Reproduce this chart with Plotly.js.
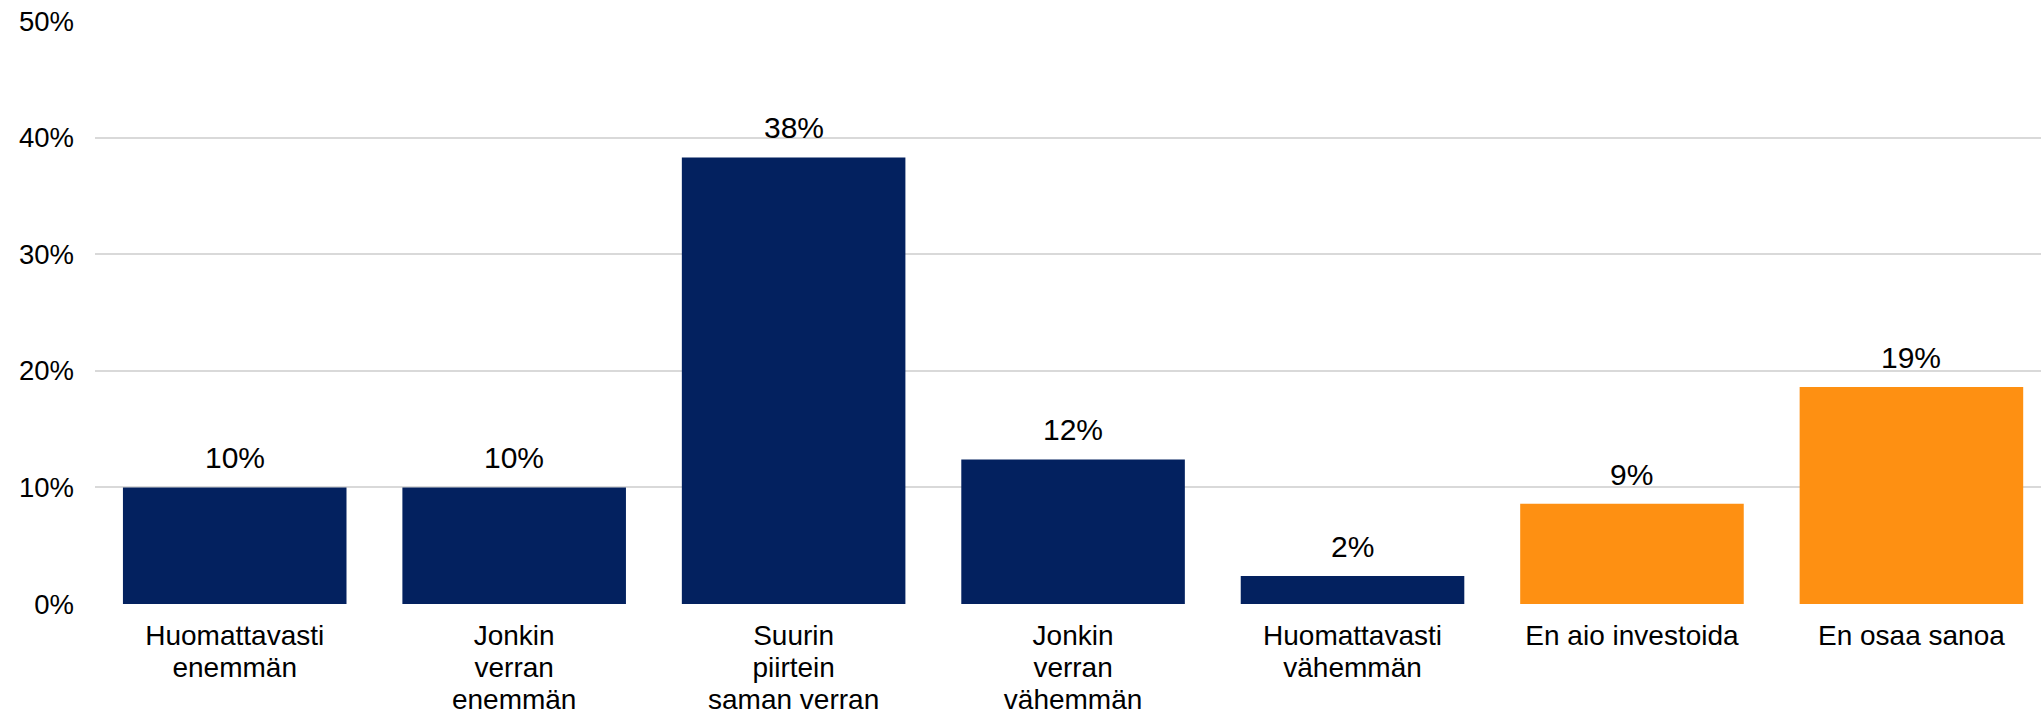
<!DOCTYPE html>
<html>
<head>
<meta charset="utf-8">
<script src="https://cdn.plot.ly/plotly-3.0.1.min.js"></script>
<style>
  html, body { margin: 0; padding: 0; background: #ffffff; }
  #chart { width: 2041px; height: 714px; }
</style>
</head>
<body>
<div id="chart"></div>
<script>
// Answer options and the share of respondents choosing each
const categories = [
  'Huomattavasti enemmän',
  'Jonkin verran enemmän',
  'Suurin piirtein saman verran',
  'Jonkin verran vähemmän',
  'Huomattavasti vähemmän',
  'En aio investoida',
  'En osaa sanoa'
];
const tickLabels = [
  'Huomattavasti<br>enemmän',
  'Jonkin<br>verran<br>enemmän',
  'Suurin<br>piirtein<br>saman verran',
  'Jonkin<br>verran<br>vähemmän',
  'Huomattavasti<br>vähemmän',
  'En aio investoida',
  'En osaa sanoa'
];
const shares = [0.100, 0.100, 0.383, 0.124, 0.024, 0.086, 0.186];
// true = the respondent states a planned investment level
const statesLevel = [true, true, true, true, true, false, false];

const yTickVals = [0, 0.1, 0.2, 0.3, 0.4, 0.5];
const yTickText = ['0%', '10%', '20%', '30%', '40%', '50%'];

const NAVY = '#03215f';
const ORANGE = '#fe9012';
const FONT = 'Liberation Sans, Arial, sans-serif';

const trace = {
  type: 'bar',
  x: categories,
  y: shares,
  marker: { color: statesLevel.map(s => s ? NAVY : ORANGE), line: { width: 0 } },
  hoverinfo: 'skip'
};

const valueLabels = categories.map((c, i) => ({
  x: c,
  y: shares[i],
  xref: 'x',
  yref: 'y',
  text: Math.round(shares[i] * 100) + '%',
  showarrow: false,
  yanchor: 'bottom',
  yshift: 11,
  font: { family: FONT, size: 30, color: '#000000' }
}));

const layout = {
  width: 2041,
  height: 714,
  margin: { l: 95, r: 0, t: 21, b: 110, pad: 0 },
  paper_bgcolor: '#ffffff',
  plot_bgcolor: '#ffffff',
  showlegend: false,
  bargap: 0.2,
  font: { family: FONT, size: 27, color: '#000000' },
  xaxis: {
    type: 'category',
    range: [-0.5, 6.4637],
    tickvals: categories,
    ticktext: tickLabels,
    showgrid: false,
    zeroline: false,
    showline: false,
    ticks: '',
    ticklabelstandoff: 12,
    tickfont: { family: FONT, size: 28, color: '#000000' },
    fixedrange: true
  },
  yaxis: {
    range: [0, 0.5],
    tickvals: yTickVals,
    ticktext: yTickText,
    showgrid: true,
    gridcolor: '#d9d9d9',
    gridwidth: 2,
    zeroline: false,
    showline: false,
    ticks: '',
    ticklabelstandoff: 20,
    tickfont: { family: FONT, size: 27.5, color: '#000000' },
    fixedrange: true
  },
  annotations: valueLabels
};

Plotly.newPlot('chart', [trace], layout, { staticPlot: true, displayModeBar: false }).then(gd => {
  // tighten the line spacing of the wrapped category labels
  gd.querySelectorAll('.xtick text tspan.line').forEach(t => {
    const dy = t.getAttribute('dy');
    if (dy && dy.endsWith('em')) {
      const v = parseFloat(dy);
      t.setAttribute('dy', (v * 1.14 / 1.3).toFixed(3) + 'em');
    }
  });
});
</script>
</body>
</html>
